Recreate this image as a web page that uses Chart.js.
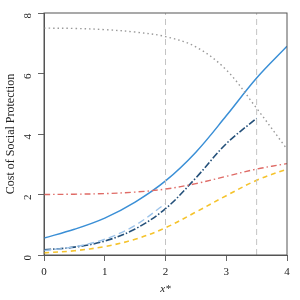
<!DOCTYPE html>
<html lang="en">
<head>
  <meta charset="UTF-8">
  <title>Cost of Social Protection</title>
  <script src="https://cdn.jsdelivr.net/npm/chart.js"></script>
  <style>
    html, body { margin: 0; padding: 0; background: #fff; }
    #wrap { width: 300px; height: 300px; }
  </style>
</head>
<body>
<div id="wrap"><canvas id="costChart" width="300" height="300"></canvas></div>

<script>
  // values
  const xs = [0, 0.5, 1, 1.5, 2, 2.5, 3, 3.5, 4];
  const solidBlue = [0.56, 0.85, 1.22, 1.75, 2.45, 3.4, 4.6, 5.85, 6.9];
  const lightBlue = [0.15, 0.27, 0.52, 0.98, 1.7];
  const navy = [0.17, 0.26, 0.46, 0.86, 1.53, 2.55, 3.68, 4.52];
  const red = [2.0, 2.01, 2.03, 2.08, 2.18, 2.36, 2.6, 2.84, 3.02];
  const yellow = [0.07, 0.14, 0.28, 0.52, 0.9, 1.42, 1.96, 2.47, 2.84];
  const grey = [7.5, 7.49, 7.45, 7.37, 7.22, 6.88, 6.12, 4.85, 3.5];
  const vLines = [2, 3.5];
  const xTicks = [0, 1, 2, 3, 4];
  const yTicks = [0, 2, 4, 6, 8];

  function pts(vals) {
    return vals.map((v, i) => ({ x: xs[i], y: v }));
  }

  function line(data, color, dash, width) {
    return {
      data: pts(data),
      borderColor: color,
      borderWidth: width || 1.4,
      borderDash: dash,
      pointRadius: 0,
      fill: false,
      tension: 0.35
    };
  }

  const datasets = vLines.map(v => ({
    data: [{ x: v, y: 0 }, { x: v, y: 8 }],
    borderColor: '#c4c4c4',
    borderWidth: 1,
    borderDash: [6, 4],
    pointRadius: 0
  }));
  datasets.push(line(grey, '#9a9a9a', [1.5, 3]));
  datasets.push(line(red, '#df6b66', [6, 3, 1.5, 3]));
  datasets.push(line(yellow, '#f5c32c', [5, 4], 1.6));
  datasets.push(line(lightBlue, '#9cc3ea', [7, 4]));
  datasets.push(line(navy, '#24507a', [7, 2, 1.5, 2], 1.6));
  datasets.push(line(solidBlue, '#3a8fd6', [], 1.5));

  const boxPlugin = {
    id: 'box',
    afterDraw(chart) {
      const a = chart.chartArea;
      const ctx = chart.ctx;
      ctx.save();
      ctx.strokeStyle = '#555';
      ctx.lineWidth = 1;
      ctx.strokeRect(a.left, a.top, a.right - a.left, a.bottom - a.top);
      ctx.restore();
    }
  };

  const serif = "'Liberation Serif', 'DejaVu Serif', serif";

  new Chart(document.getElementById('costChart'), {
    type: 'line',
    data: { datasets: datasets },
    options: {
      responsive: false,
      animation: false,
      layout: { padding: { top: 13, right: 13, left: 0, bottom: 0 } },
      plugins: { legend: { display: false }, tooltip: { enabled: false } },
      scales: {
        x: {
          type: 'linear',
          min: 0, max: 4,
          afterBuildTicks(s) { s.ticks = xTicks.map(v => ({ value: v })); },
          afterFit(s) { s.height = 45; s.paddingLeft = 0; s.paddingRight = 0; },
          grid: { drawOnChartArea: false, drawTicks: true, tickLength: 6, color: '#666' },
          border: { color: '#555' },
          ticks: { font: { family: serif, size: 11 }, color: '#222', padding: 5 },
          title: { display: true, text: 'x*', font: { family: serif, size: 11, style: 'italic' }, color: '#222', padding: { top: 4 } }
        },
        y: {
          min: 0, max: 8,
          afterBuildTicks(s) { s.ticks = yTicks.map(v => ({ value: v })); },
          afterFit(s) { s.width = 44; s.paddingTop = 0; s.paddingBottom = 0; },
          grid: { drawOnChartArea: false, drawTicks: true, tickLength: 6, color: '#666' },
          border: { color: '#555' },
          ticks: { font: { family: serif, size: 11 }, color: '#222', minRotation: 90, maxRotation: 90, padding: 10 },
          title: { display: true, text: 'Cost of Social Protection', font: { family: serif, size: 12 }, color: '#222', padding: { bottom: 1 } }
        }
      }
    },
    plugins: [boxPlugin]
  });
</script>
</body>
</html>
